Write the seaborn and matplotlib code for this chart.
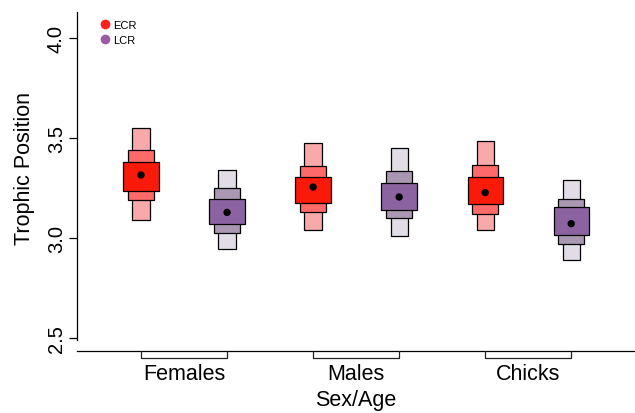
import numpy as np
import pandas as pd
import matplotlib
matplotlib.use("Agg")
import matplotlib.pyplot as plt
from matplotlib.lines import Line2D
import seaborn as sns

# ---- data ----
groups = ["Females", "Males", "Chicks"]
phases = ["ECR", "LCR"]
# order: Females-ECR, Females-LCR, Males-ECR, Males-LCR, Chicks-ECR, Chicks-LCR
mode_tp = [3.315, 3.128, 3.255, 3.205, 3.227, 3.072]
ci95_lo = [3.092, 2.945, 3.042, 3.008, 3.042, 2.892]
ci95_hi = [3.548, 3.342, 3.473, 3.450, 3.483, 3.292]
ci75_lo = [3.189, 3.025, 3.128, 3.098, 3.120, 2.970]
ci75_hi = [3.440, 3.250, 3.358, 3.337, 3.363, 3.195]
ci50_lo = [3.235, 3.068, 3.173, 3.140, 3.168, 3.015]
ci50_hi = [3.379, 3.195, 3.305, 3.277, 3.303, 3.153]
y_ticks = [2.5, 3.0, 3.5, 4.0]

colors = {
    "ECR": {"95": "#F9A9A9", "75": "#FE6A6A", "50": "#FA1A0A", "leg": "#FF2020"},
    "LCR": {"95": "#E1DCE6", "75": "#AA98B3", "50": "#8B63A0", "leg": "#9B59A6"},
}

df = pd.DataFrame({
    "group": np.repeat(groups, len(phases)),
    "phase": phases * len(groups),
    "mode": mode_tp,
    "lo95": ci95_lo, "hi95": ci95_hi,
    "lo75": ci75_lo, "hi75": ci75_hi,
    "lo50": ci50_lo, "hi50": ci50_hi,
})
df["pos"] = np.arange(len(df)) + 1.0

sns.set_style("white")
plt.rcParams["font.family"] = ["Liberation Sans", "DejaVu Sans"]
plt.rcParams.update({"text.color": "black", "axes.labelcolor": "black",
                     "xtick.color": "black", "ytick.color": "black"})

fig = plt.figure(figsize=(6.35, 4.14), dpi=100)
W, H = 635, 414
ax = fig.add_axes([77 / W, (H - 352) / H, (634 - 77) / W, (352 - 13) / H])

widths = {"95": 0.20, "75": 0.30, "50": 0.41}
for level in ["95", "75", "50"]:
    for ph in phases:
        sub = df[df["phase"] == ph]
        ax.bar(sub["pos"], sub["hi" + level] - sub["lo" + level],
               bottom=sub["lo" + level], width=widths[level],
               color=colors[ph][level], edgecolor="black", linewidth=0.9,
               zorder=2)

sns.scatterplot(data=df, x="pos", y="mode", color="black", s=28,
                edgecolor="none", ax=ax, zorder=3, legend=False)

ax.set_xlim(0.256, 6.73)
ax.set_ylim(2.435, 4.13)

# y axis
ax.set_yticks(y_ticks)
ax.set_yticklabels([f"{v:.1f}" for v in y_ticks], rotation=90, va="center",
                   fontsize=14.5, color="black")
ax.tick_params(axis="y", direction="out", length=6, width=0.9, pad=2,
               left=True, colors="black")
ax.spines["left"].set_bounds(2.49, 4.13)

# x axis: brackets per group
centers = df.groupby("group", sort=False)["pos"].mean().values
ax.set_xticks(centers)
ax.set_xticklabels(groups, fontsize=15.5, color="black")
ax.tick_params(axis="x", length=0, pad=9)
for g in groups:
    p = df.loc[df["group"] == g, "pos"].values
    ax.plot([p[0], p[0], p[-1], p[-1]], [2.435, 2.40, 2.40, 2.435],
            color="#222222", lw=0.9, clip_on=False, zorder=4)

for s in ["top", "right"]:
    ax.spines[s].set_visible(False)
for s in ["left", "bottom"]:
    ax.spines[s].set_color("black")
    ax.spines[s].set_linewidth(0.9)

ax.set_xlabel("Sex/Age", fontsize=15.5, color="black")
ax.set_ylabel("Trophic Position", fontsize=15.5, color="black")
ax.xaxis.set_label_coords(0.5, -0.113)
ax.yaxis.set_label_coords(-0.075, 0.54)

handles = [Line2D([0], [0], marker="o", linestyle="none", markersize=7,
                  markerfacecolor=colors[ph]["leg"], markeredgecolor="none",
                  label=ph) for ph in phases]
ax.legend(handles=handles, loc="upper left", bbox_to_anchor=(0.025, 1.0),
          frameon=False, fontsize=8, handletextpad=0.1, labelspacing=0.45,
          borderpad=0.2, handlelength=1.2)

fig.savefig("out.png", dpi=100, facecolor="white")
